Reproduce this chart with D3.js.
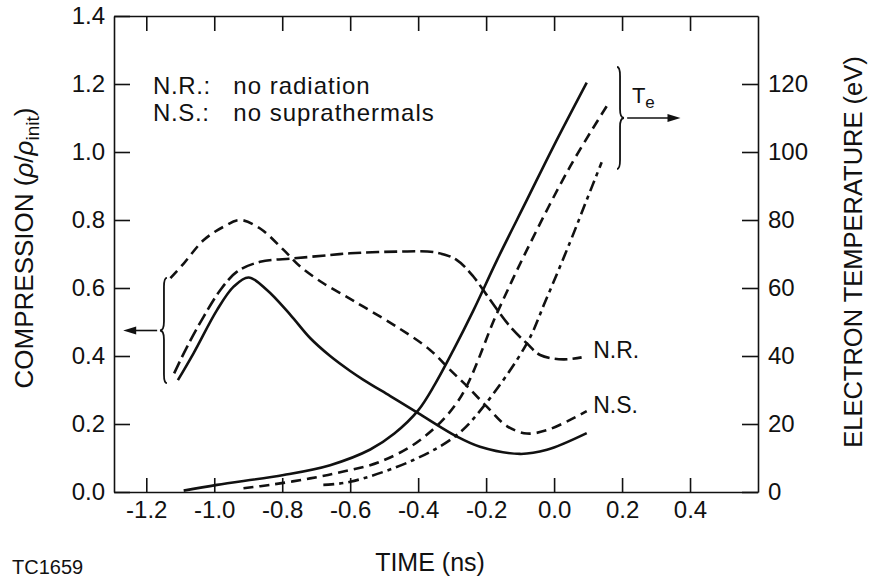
<!DOCTYPE html>
<html><head><meta charset="utf-8">
<script src="https://cdn.jsdelivr.net/npm/d3@7"></script>
<style>
html,body{margin:0;padding:0;background:#fff;}
svg{display:block;font-family:"Liberation Sans",Arial,Helvetica,sans-serif;}
</style></head>
<body>
<svg id="chart" width="871" height="579"></svg>
<script>
// ---- data (time in ns; compression rho/rho_init; electron temperature in eV) ----
const timeTicks = [-1.2,-1.0,-0.8,-0.6,-0.4,-0.2,0.0,0.2,0.4];
const compTicks = [0.0,0.2,0.4,0.6,0.8,1.0,1.2,1.4];
const tempTicks = [0,20,40,60,80,100,120];

// compression, base case (solid)
const compBase = [[-1.107,0.329],[-1.061,0.408],[-0.992,0.535],[-0.943,0.604],[-0.899,0.631],[-0.845,0.594],[-0.776,0.521],[-0.718,0.453],[-0.659,0.400],[-0.6,0.356],[-0.561,0.330],[-0.482,0.282],[-0.4,0.232],[-0.286,0.163],[-0.218,0.133],[-0.1,0.112],[-0.021,0.124],[0.096,0.173]];
// compression, no suprathermals (dashed)
const compNS = [[-1.129,0.629],[-1.09,0.672],[-1.031,0.741],[-0.973,0.780],[-0.924,0.800],[-0.865,0.775],[-0.796,0.712],[-0.747,0.663],[-0.679,0.614],[-0.610,0.574],[-0.561,0.545],[-0.463,0.486],[-0.365,0.418],[-0.306,0.359],[-0.257,0.312],[-0.198,0.251],[-0.139,0.194],[-0.080,0.172],[-0.021,0.182],[0.047,0.212],[0.096,0.238]];
// compression, no radiation (long dash)
const compNR = [[-1.118,0.349],[-1.080,0.427],[-1.031,0.516],[-0.982,0.594],[-0.933,0.648],[-0.865,0.677],[-0.767,0.687],[-0.659,0.697],[-0.6,0.702],[-0.463,0.707],[-0.345,0.704],[-0.286,0.682],[-0.237,0.633],[-0.198,0.579],[-0.129,0.486],[-0.080,0.437],[-0.041,0.403],[0.027,0.390],[0.081,0.396]];

// electron temperature, base case (solid)
const tempBase = [[-1.09,0.4],[-0.992,2.1],[-0.796,5],[-0.659,7.9],[-0.541,12.5],[-0.47,17.2],[-0.4,24],[-0.35,31.8],[-0.296,41.8],[-0.237,53.5],[-0.168,68.2],[-0.08,85.9],[-0.002,101.6],[0.096,120.4]];
// electron temperature, no suprathermals (dashed)
const tempNS = [[-0.914,1.1],[-0.835,2.1],[-0.718,4],[-0.62,6],[-0.512,8.9],[-0.394,15.3],[-0.281,27],[-0.168,52.6],[-0.08,71.2],[0.047,95.7],[0.16,114.3]];
// electron temperature, no radiation (dash-dot)
const tempNR = [[-0.679,2.1],[-0.6,3],[-0.414,9.4],[-0.286,16.8],[-0.208,25.1],[-0.08,43.7],[-0.026,56],[0.047,73.5],[0.096,85.9],[0.14,97]];

const legendKeys = ["N.R.:","N.S.:"];
const legendTexts = ["no radiation","no suprathermals"];

// ---- chart ----
const svg = d3.select("#chart");
const x = d3.scaleLinear().domain([-1.295,0.6]).range([114,758]);
const yL = d3.scaleLinear().domain([0,1.4]).range([492,16]);
const yR = d3.scaleLinear().domain([0,140]).range([492,16]);
const fmt1 = d => d.toFixed(1);

function styleAxis(g, fs){
  g.selectAll("path.domain").attr("stroke","#111").attr("stroke-width",1.6);
  g.selectAll(".tick line").attr("stroke","#111").attr("stroke-width",1.6);
  g.selectAll(".tick text").attr("fill","#111").style("font-size",fs+"px")
   .style("font-family",'"Liberation Sans",Arial,Helvetica,sans-serif');
}

const gB = svg.append("g").attr("transform",`translate(0,${yL(0)})`)
  .call(d3.axisBottom(x).tickValues(timeTicks).tickFormat(fmt1).tickSizeInner(-14).tickSizeOuter(0).tickPadding(9));
styleAxis(gB,24);
const gT = svg.append("g").attr("transform",`translate(0,${yL(1.4)})`)
  .call(d3.axisTop(x).tickValues(timeTicks).tickFormat("").tickSizeInner(-15).tickSizeOuter(0));
styleAxis(gT,24);
const gL = svg.append("g").attr("transform",`translate(${x(-1.295)},0)`)
  .call(d3.axisLeft(yL).tickValues(compTicks).tickFormat(fmt1).tickSizeInner(-16).tickSizeOuter(0).tickPadding(9));
styleAxis(gL,24);
const gR = svg.append("g").attr("transform",`translate(${x(0.6)},0)`)
  .call(d3.axisRight(yR).tickValues(tempTicks).tickSizeInner(-16).tickSizeOuter(0).tickPadding(10));
styleAxis(gR,24);

// curves
const lineL = d3.line().x(d=>x(d[0])).y(d=>yL(d[1])).curve(d3.curveCatmullRom.alpha(0.5));
const lineR = d3.line().x(d=>x(d[0])).y(d=>yR(d[1])).curve(d3.curveCatmullRom.alpha(0.5));
const curves = [
  {data:compBase, gen:lineL, dash:null},
  {data:compNS, gen:lineL, dash:"10,6"},
  {data:compNR, gen:lineL, dash:"13,5"},
  {data:tempBase, gen:lineR, dash:null},
  {data:tempNS, gen:lineR, dash:"10,6"},
  {data:tempNR, gen:lineR, dash:"11,5,4,5"}
];
svg.append("g").selectAll("path").data(curves).join("path")
  .attr("d",d=>d.gen(d.data)).attr("fill","none").attr("stroke","#111")
  .attr("stroke-width",2.6).attr("stroke-dasharray",d=>d.dash);

// braces and arrows
function brace(xc, y1, y2, s){
  const ym = (y1+y2)/2;
  return `M${xc-s*3},${y1} Q${xc},${y1} ${xc},${y1+9} L${xc},${ym-9} Q${xc},${ym} ${xc+s*4},${ym} Q${xc},${ym} ${xc},${ym+9} L${xc},${y2-9} Q${xc},${y2} ${xc-s*3},${y2}`;
}
svg.append("path").attr("d",brace(x(-1.148),yL(0.63),yL(0.32),-1))
  .attr("fill","none").attr("stroke","#111").attr("stroke-width",1.8);
svg.append("path").attr("d",brace(x(0.194),yR(125),yR(95),1))
  .attr("fill","none").attr("stroke","#111").attr("stroke-width",1.8);

function arrow(x1,x2,y){
  const dir = Math.sign(x2-x1);
  svg.append("line").attr("x1",x1).attr("x2",x2-dir*10).attr("y1",y).attr("y2",y)
    .attr("stroke","#111").attr("stroke-width",1.6);
  svg.append("path").attr("d",`M${x2},${y} L${x2-dir*13},${y-4} L${x2-dir*13},${y+4} Z`).attr("fill","#111");
}
arrow(x(-1.168), x(-1.268), yL(0.475));
arrow(x(0.215), x(0.372), yR(110));

// T_e label
const te = svg.append("text").attr("x",x(0.229)).attr("y",yR(114.4)).attr("fill","#111").style("font-size","22px");
te.append("tspan").text("T");
te.append("tspan").attr("dy",5).style("font-size","17px").text("e");

// curve labels
svg.append("text").attr("x",x(0.115)).attr("y",yL(0.394)).attr("fill","#111").style("font-size","23px").text("N.R.");
svg.append("text").attr("x",x(0.115)).attr("y",yL(0.232)).attr("fill","#111").style("font-size","23px").text("N.S.");

// legend text
legendKeys.forEach((k,i)=>{
  const yy = yL(1.172) + i*27;
  svg.append("text").attr("x",x(-1.18)).attr("y",yy).attr("fill","#111").style("font-size","24px")
    .style("letter-spacing","0.6px").text(k);
  svg.append("text").attr("x",x(-0.944)).attr("y",yy).attr("fill","#111").style("font-size","24px")
    .style("letter-spacing","1px").text(legendTexts[i]);
});

// axis titles
svg.append("text").attr("x",(x(-1.295)+x(0.6))/2 - 6).attr("y",571).attr("text-anchor","middle")
  .attr("fill","#111").style("font-size","25px").text("TIME (ns)");

const lt = svg.append("text").attr("transform","translate(33,248) rotate(-90)").attr("text-anchor","middle")
  .attr("fill","#111").style("font-size","26px");
lt.append("tspan").text("COMPRESSION (");
lt.append("tspan").style("font-style","italic").text("ρ");
lt.append("tspan").text("/");
lt.append("tspan").style("font-style","italic").text("ρ");
lt.append("tspan").attr("dy",6).style("font-size","19px").text("init");
lt.append("tspan").attr("dy",-6).text(")");

svg.append("text").attr("transform","translate(862,252) rotate(-90)").attr("text-anchor","middle")
  .attr("fill","#111").style("font-size","25.5px").text("ELECTRON TEMPERATURE (eV)");

svg.append("text").attr("x",12).attr("y",574).attr("fill","#111").style("font-size","20px").text("TC1659");
</script>
</body></html>
